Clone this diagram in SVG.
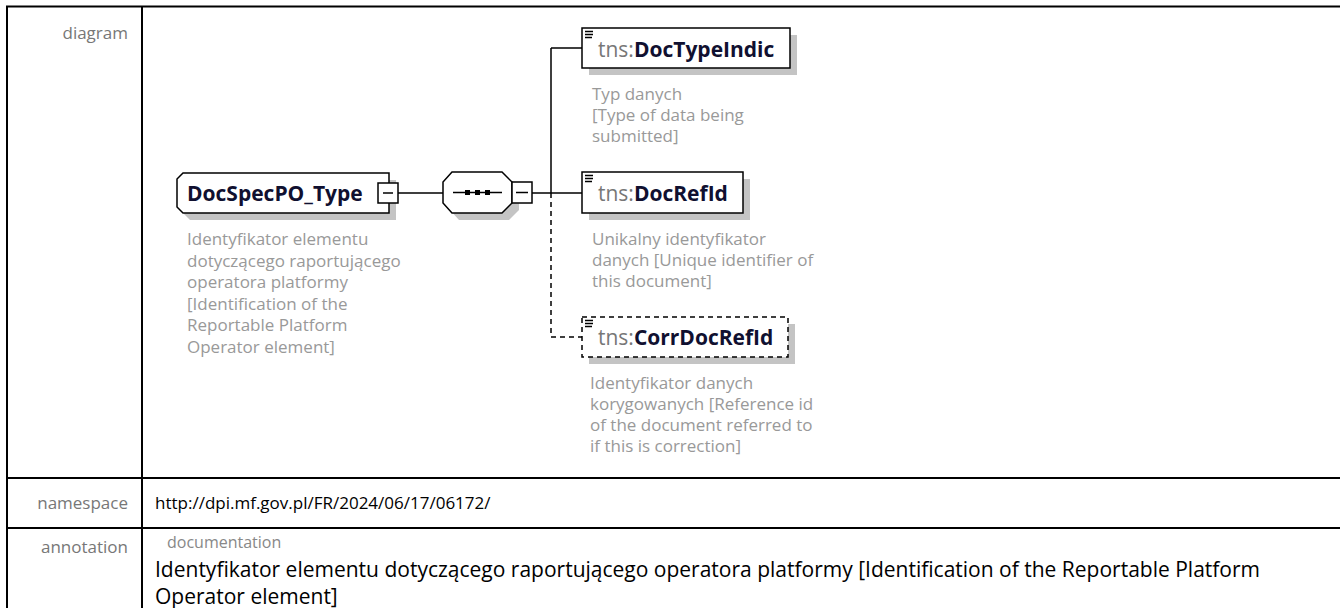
<svg xmlns="http://www.w3.org/2000/svg" width="1340" height="608" viewBox="0 0 1340 608">
<style>
text{font-family:"Open Sans","Noto Sans","DejaVu Sans",sans-serif}
.lbl{font-size:17px;fill:#777;text-anchor:end}
.val{font-size:17px;fill:#000}
.ann{font-size:21px;fill:#000}
.doc{font-size:16px;fill:#888}
.desc{font-size:17px;fill:#999}
.nm{font-size:21px;fill:#101030;font-weight:bold}
.ns{font-size:21px;fill:#777;font-weight:normal}
.grid{stroke:#000;stroke-width:2;fill:none}
.box{fill:#fff;stroke:#000;stroke-width:1.5}
.shadow{fill:#c4c4c4}
.conn{stroke:#000;stroke-width:1.5;fill:none}
.dash{stroke-dasharray:5 4}
.icon{stroke:#000;stroke-width:1.3}
</style>
<rect width="1340" height="608" fill="#fff"/>
<g id="table">
<path class="grid" d="M6 6.5H1340M7 6V608M142 6V608M7 478H1340M7 528H1340"/>
<text class="lbl" x="128" y="39">diagram</text>
<text class="lbl" x="128" y="509">namespace</text>
<text class="val" x="155" y="509">http://dpi.mf.gov.pl/FR/2024/06/17/06172/</text>
<text class="lbl" x="128" y="553">annotation</text>
<text class="doc" x="167" y="548">documentation</text>
<text class="ann" x="155" y="577">Identyfikator elementu dotyczącego raportującego operatora platformy [Identification of the Reportable Platform</text>
<text class="ann" x="155" y="604">Operator element]</text>
</g>
<g id="connectors">
<path class="conn" d="M398 193H443M532 193H582M551 48V193M551 48H582"/>
<path class="conn dash" d="M551 193V337H582"/>
</g>
<g id="node-DocSpecPO_Type">
<polygon class="shadow" points="190,180 396,180 396,220 190,220 184,214 184,186"/>
<polygon class="box" points="183,173 389,173 389,213 183,213 177,207 177,179"/>
<text class="nm" x="187" y="201">DocSpecPO_Type</text>
<rect class="box" x="378" y="183" width="20" height="20"/>
<path class="conn" d="M383 193H393"/>
<text class="desc" x="187" y="245">Identyfikator elementu</text>
<text class="desc" x="187" y="266.6">dotyczącego raportującego</text>
<text class="desc" x="187" y="288.2">operatora platformy</text>
<text class="desc" x="187" y="309.8">[Identification of the</text>
<text class="desc" x="187" y="331.4">Reportable Platform</text>
<text class="desc" x="187" y="353">Operator element]</text>
</g>
<g id="node-sequence">
<polygon class="shadow" points="459,179 509,179 519,189 519,210 509,220 459,220 450,210 450,189"/>
<polygon class="box" points="452,172 502,172 512,182 512,203 502,213 452,213 443,203 443,182"/>
<path class="conn" d="M453 192.5H502"/>
<rect x="465" y="190" width="5" height="5" fill="#000"/>
<rect x="475" y="190" width="5" height="5" fill="#000"/>
<rect x="485" y="190" width="5" height="5" fill="#000"/>
<rect class="box" x="512" y="182" width="20" height="21"/>
<path class="conn" d="M516 192.5H528"/>
</g>
<g id="node-DocTypeIndic">
<rect class="shadow" x="589" y="35" width="208" height="40"/>
<rect class="box" x="582" y="28" width="208" height="40"/>
<path class="icon" d="M585 31.5H593M585 34.5H593M585 37.5H592"/>
<text class="nm" x="598" y="57"><tspan class="ns">tns:</tspan>DocTypeIndic</text>
<text class="desc" x="592" y="100">Typ danych</text>
<text class="desc" x="592" y="121">[Type of data being</text>
<text class="desc" x="592" y="142">submitted]</text>
</g>
<g id="node-DocRefId">
<rect class="shadow" x="589" y="179" width="161" height="41"/>
<rect class="box" x="582" y="172" width="161" height="41"/>
<path class="icon" d="M585 175.5H593M585 178.5H593M585 181.5H592"/>
<text class="nm" x="598" y="201"><tspan class="ns">tns:</tspan>DocRefId</text>
<text class="desc" x="592" y="245">Unikalny identyfikator</text>
<text class="desc" x="592" y="266">danych [Unique identifier of</text>
<text class="desc" x="592" y="287">this document]</text>
</g>
<g id="node-CorrDocRefId">
<rect class="shadow" x="589" y="324" width="206" height="40"/>
<rect class="box dash" x="582" y="317" width="206" height="40"/>
<path class="icon" d="M585 320.5H593M585 323.5H593M585 326.5H592"/>
<text class="nm" x="598" y="345"><tspan class="ns">tns:</tspan>CorrDocRefId</text>
<text class="desc" x="590" y="389">Identyfikator danych</text>
<text class="desc" x="590" y="410">korygowanych [Reference id</text>
<text class="desc" x="590" y="431">of the document referred to</text>
<text class="desc" x="590" y="452">if this is correction]</text>
</g>
</svg>
